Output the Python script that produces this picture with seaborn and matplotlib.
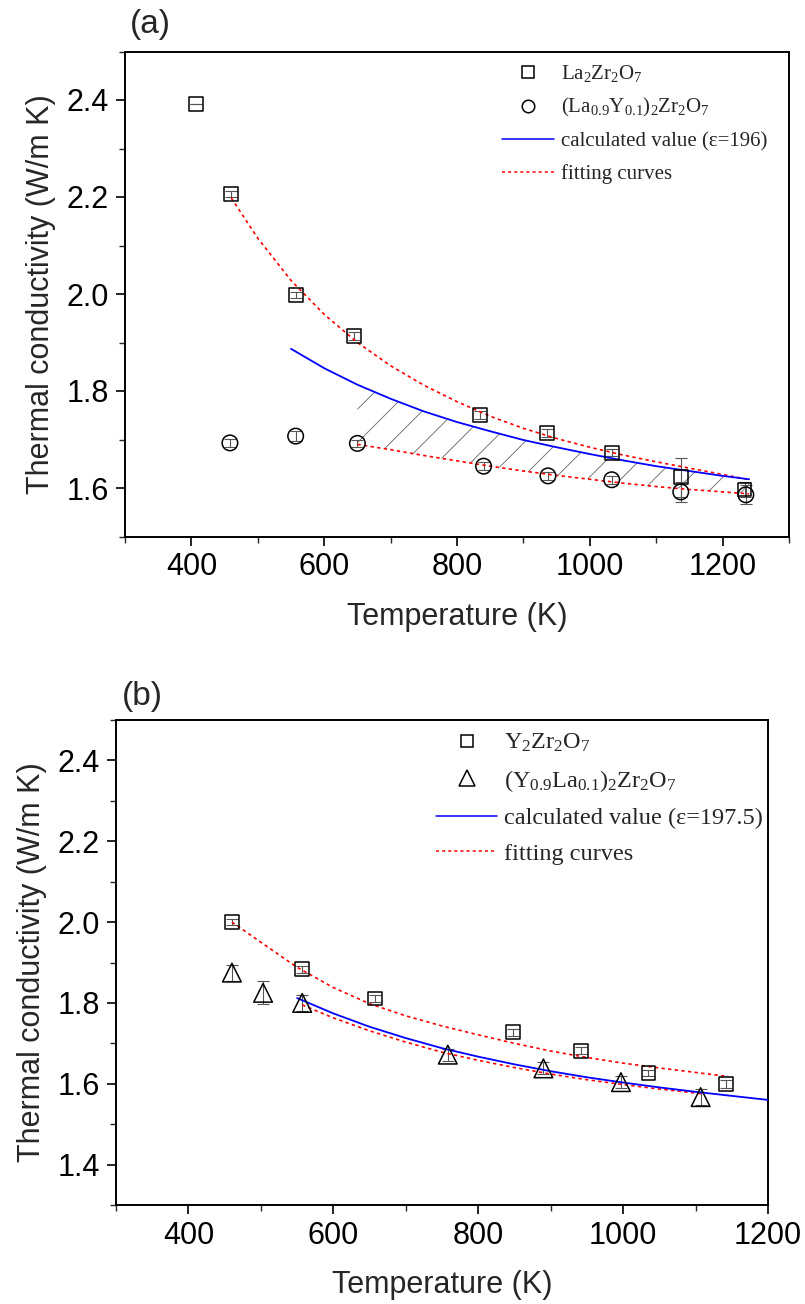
import numpy as np
import pandas as pd
import matplotlib
matplotlib.use("Agg")
import matplotlib.pyplot as plt
import seaborn as sns
from matplotlib.ticker import MultipleLocator
from matplotlib.lines import Line2D

# ---------------- Panel (a) data ----------------
a_sq_T = [407, 460, 557, 645, 835, 935, 1033, 1137, 1233]
a_sq_k = [2.392, 2.206, 1.998, 1.913, 1.750, 1.713, 1.673, 1.622, 1.597]
a_sq_err = [0.0, 0.006, 0.006, 0.008, 0.008, 0.008, 0.008, 0.040, 0.015]

a_ci_T = [458, 557, 650, 840, 937, 1033, 1137, 1235]
a_ci_k = [1.693, 1.707, 1.692, 1.645, 1.625, 1.617, 1.592, 1.586]
a_ci_err = [0.008, 0.010, 0.008, 0.008, 0.008, 0.008, 0.020, 0.020]

a_calc_T = [550, 600, 650, 700, 750, 800, 850, 900, 950, 1000, 1050, 1100, 1150, 1200, 1240]
a_calc_k = [1.887, 1.847, 1.813, 1.784, 1.758, 1.736, 1.717, 1.699, 1.684, 1.670, 1.657, 1.645, 1.635, 1.625, 1.618]

a_fit1_T = [460, 500, 550, 600, 650, 700, 750, 800, 850, 900, 950, 1000, 1050, 1100, 1150, 1200, 1237]
a_fit1_k = [2.198, 2.115, 2.028, 1.958, 1.900, 1.852, 1.812, 1.778, 1.748, 1.723, 1.702, 1.684, 1.668, 1.654, 1.641, 1.628, 1.618]

a_fit2_T = [650, 700, 750, 800, 850, 900, 950, 1000, 1050, 1100, 1150, 1200, 1240]
a_fit2_k = [1.690, 1.679, 1.667, 1.656, 1.645, 1.635, 1.626, 1.618, 1.610, 1.603, 1.597, 1.592, 1.588]

a_labels = [r"La$_2$Zr$_2$O$_7$", r"(La$_{0.9}$Y$_{0.1}$)$_2$Zr$_2$O$_7$",
            "calculated value (\u03b5=196)", "fitting curves"]

# ---------------- Panel (b) data ----------------
b_sq_T = [460, 557, 657, 848, 942, 1035, 1142]
b_sq_k = [2.000, 1.883, 1.811, 1.727, 1.682, 1.627, 1.600]
b_sq_err = [0.008, 0.008, 0.008, 0.008, 0.008, 0.008, 0.010]

b_tr_T = [460, 503, 557, 758, 890, 997, 1107]
b_tr_k = [1.875, 1.825, 1.800, 1.672, 1.638, 1.604, 1.567]
b_tr_err = [0.020, 0.028, 0.020, 0.015, 0.015, 0.015, 0.020]

b_calc_T = [550, 600, 650, 700, 750, 800, 850, 900, 950, 1000, 1050, 1100, 1150, 1200]
b_calc_k = [1.812, 1.774, 1.741, 1.713, 1.688, 1.667, 1.648, 1.631, 1.616, 1.603, 1.591, 1.580, 1.570, 1.560]

b_fit1_T = [460, 500, 550, 600, 650, 700, 750, 800, 850, 900, 950, 1000, 1050, 1100, 1145]
b_fit1_k = [2.000, 1.950, 1.888, 1.838, 1.798, 1.768, 1.743, 1.721, 1.700, 1.681, 1.665, 1.651, 1.639, 1.628, 1.618]

b_fit2_T = [557, 600, 650, 700, 750, 800, 850, 900, 950, 1000, 1050, 1100, 1110]
b_fit2_k = [1.795, 1.763, 1.731, 1.703, 1.678, 1.658, 1.640, 1.624, 1.610, 1.598, 1.587, 1.577, 1.575]

b_labels = [r"Y$_2$Zr$_2$O$_7$", r"(Y$_{0.9}$La$_{0.1}$)$_2$Zr$_2$O$_7$",
            "calculated value (\u03b5=197.5)", "fitting curves"]

xlabel = "Temperature (K)"
ylabel = "Thermal conductivity (W/m K)"

# ---------------- style ----------------
sns.set_theme(style="ticks")
plt.rcParams["font.family"] = ["Liberation Sans", "DejaVu Sans"]
plt.rcParams["mathtext.fontset"] = "custom"
plt.rcParams["mathtext.rm"] = "Liberation Serif"
plt.rcParams["mathtext.it"] = "Liberation Serif:italic"
plt.rcParams["mathtext.default"] = "rm"
plt.rcParams["hatch.linewidth"] = 0.6

BLUE = "#0000ff"
RED = "#ff0000"
TICK_FS = 22
LAB_FS = 22
DOT = (0, (2.0, 2.0))

fig = plt.figure(figsize=(8.05, 13.04), dpi=100)
W, H = 805.0, 1304.0
ax1 = fig.add_axes([125 / W, 1 - 536.5 / H, 664 / W, 485 / H])
ax2 = fig.add_axes([116 / W, 1 - 1205 / H, 652 / W, 485 / H])


def style_axes(ax, xlim, ylim):
    ax.set_xlim(*xlim)
    ax.set_ylim(*ylim)
    ax.xaxis.set_major_locator(MultipleLocator(200))
    ax.xaxis.set_minor_locator(MultipleLocator(100))
    ax.yaxis.set_major_locator(MultipleLocator(0.2))
    ax.yaxis.set_minor_locator(MultipleLocator(0.1))
    ax.yaxis.set_major_formatter(matplotlib.ticker.FormatStrFormatter("%.1f"))
    for s in ax.spines.values():
        s.set_linewidth(1.4)
        s.set_color("black")
        s.set_visible(True)
    ax.tick_params(which="major", direction="out", length=6.5, width=1.2,
                   labelsize=TICK_FS, pad=5, colors="black", top=False, right=False)
    ax.tick_params(which="minor", direction="out", length=4.3, width=1.0,
                   top=False, right=False)
    ax.set_xlabel(xlabel, fontsize=LAB_FS, labelpad=14)
    ax.set_ylabel(ylabel, fontsize=LAB_FS, labelpad=8)
    ax.grid(False)
    ax.set_facecolor("white")


def scatter(ax, T, k, err, marker, size):
    ax.errorbar(T, k, yerr=err, fmt="none", ecolor="#555555", elinewidth=0.8,
                capsize=4, capthick=0.8, zorder=2)
    df = pd.DataFrame({"T": T, "k": k})
    sns.scatterplot(data=df, x="T", y="k", ax=ax, marker=marker, s=size,
                    facecolors="none", edgecolor="black", linewidth=1.1,
                    zorder=4, legend=False)


def curve(ax, T, k, color, ls, lw):
    df = pd.DataFrame({"T": T, "k": k})
    sns.lineplot(data=df, x="T", y="k", ax=ax, color=color, linestyle=ls,
                 linewidth=lw, sort=False, zorder=3, legend=False)


def make_legend(ax, labels, m2, fs, anchor, spacing):
    handles = [
        Line2D([], [], ls="none", marker="s", ms=8, mfc="none", mec="black", mew=1.1),
        Line2D([], [], ls="none", marker=m2, ms=9 if m2 == "o" else 11, mfc="none",
               mec="black", mew=1.1),
        Line2D([], [], color=BLUE, lw=1.1),
        Line2D([], [], color=RED, lw=1.1, ls=DOT),
    ]
    ax.legend(handles, labels, loc="upper right", bbox_to_anchor=anchor,
              frameon=False, prop={"family": "Liberation Serif", "size": fs},
              handlelength=2.5, handletextpad=0.3, labelspacing=spacing,
              borderaxespad=0.0, borderpad=0.2)


# ---------------- Panel (a) ----------------
style_axes(ax1, (300, 1300), (1.5, 2.5))
ax1.fill_between(a_fit2_T, a_fit2_k, a_calc_k[2:], facecolor="none",
                 edgecolor="#666666", hatch="/", linewidth=0, zorder=1)
curve(ax1, a_fit1_T, a_fit1_k, RED, DOT, 1.2)
curve(ax1, a_fit2_T, a_fit2_k, RED, DOT, 1.2)
curve(ax1, a_calc_T, a_calc_k, BLUE, "-", 1.3)
scatter(ax1, a_sq_T, a_sq_k, a_sq_err, "s", 100)
scatter(ax1, a_ci_T, a_ci_k, a_ci_err, "o", 125)
style_axes(ax1, (300, 1300), (1.5, 2.5))
make_legend(ax1, a_labels, "o", 15, (0.973, 0.985), 0.6)

# ---------------- Panel (b) ----------------
style_axes(ax2, (300, 1200), (1.3, 2.5))
curve(ax2, b_fit1_T, b_fit1_k, RED, DOT, 1.2)
curve(ax2, b_fit2_T, b_fit2_k, RED, DOT, 1.2)
curve(ax2, b_calc_T, b_calc_k, BLUE, "-", 1.3)
scatter(ax2, b_sq_T, b_sq_k, b_sq_err, "s", 100)
scatter(ax2, b_tr_T, b_tr_k, b_tr_err, "^", 180)
style_axes(ax2, (300, 1200), (1.3, 2.5))
make_legend(ax2, b_labels, "^", 17.5, (1.0, 0.985), 0.55)

fig.text(130 / W, 1 - 25 / H, "(a)", fontsize=24, va="center", ha="left")
fig.text(122 / W, 1 - 697 / H, "(b)", fontsize=24, va="center", ha="left")

fig.savefig("out.png", dpi=100, facecolor="white")
